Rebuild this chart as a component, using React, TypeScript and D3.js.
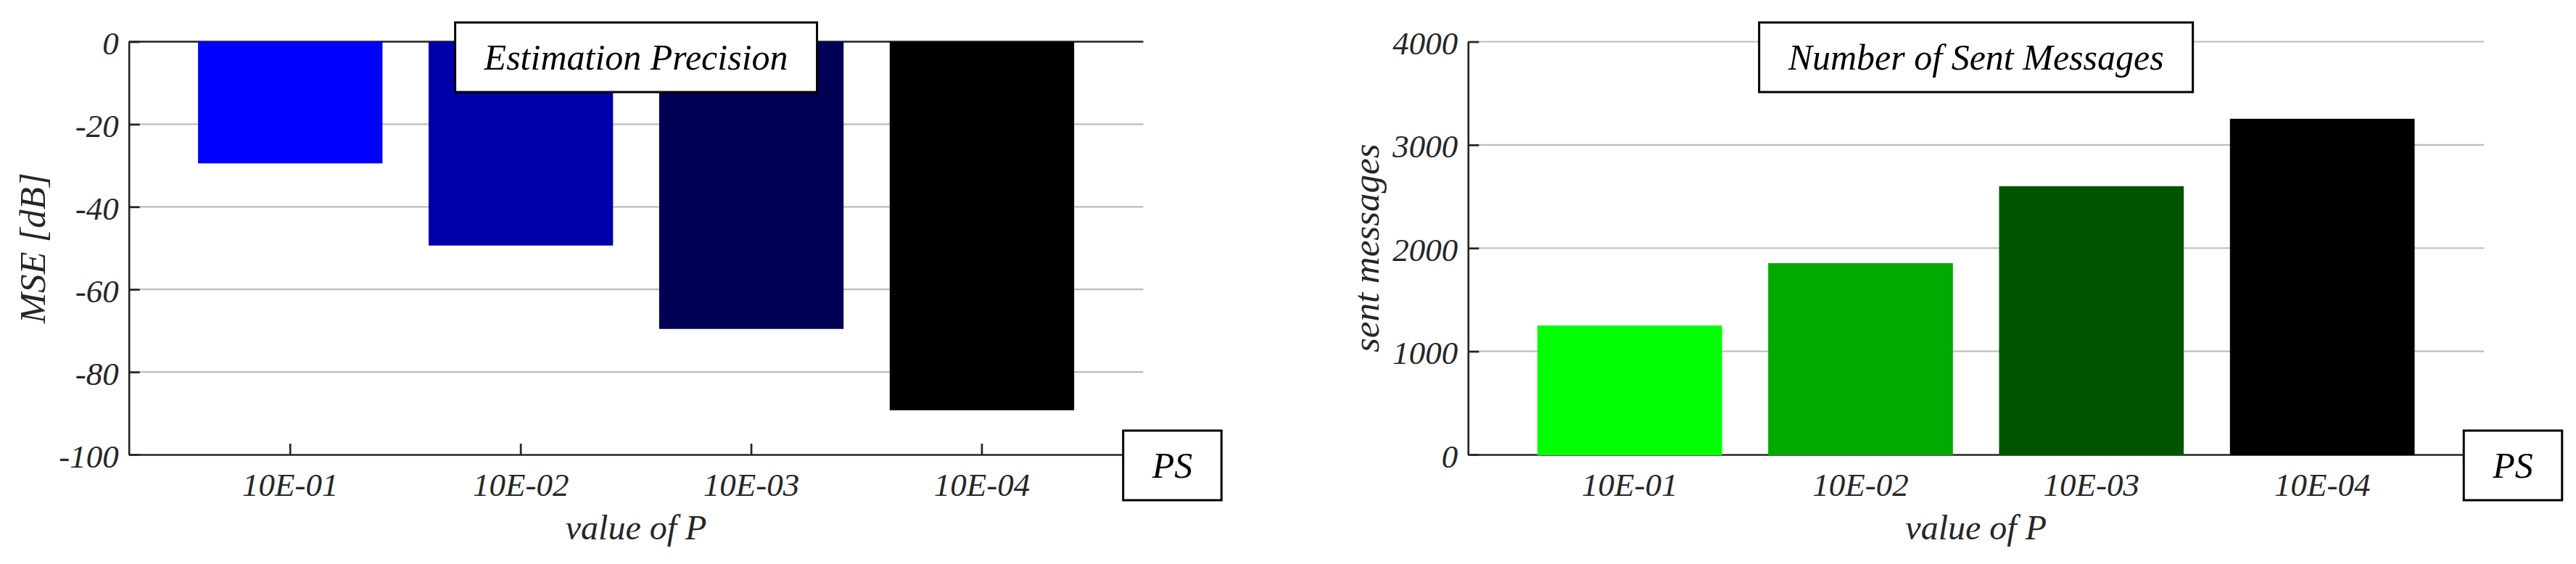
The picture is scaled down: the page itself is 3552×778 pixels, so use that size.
import React, { useEffect, useRef } from 'react';
import * as d3 from 'd3';

// values of P on the x axis, shared by both panels
const categories = ['10E-01', '10E-02', '10E-03', '10E-04'];

// left panel: estimation precision (MSE in dB)
const mseValues = [-29.3, -49.2, -69.4, -89.1];
const mseTicks = [0, -20, -40, -60, -80, -100];
const blueShades = ['#0000ff', '#0000aa', '#000055', '#000000'];

// right panel: number of sent messages
const sentValues = [1250, 1854, 2600, 3253];
const sentTicks = [0, 1000, 2000, 3000, 4000];
const greenShades = ['#00ff00', '#00aa00', '#005500', '#000000'];

const WIDTH = 3552;
const HEIGHT = 778;
const PLOT_TOP = 57.5;
const PLOT_BOTTOM = 627;
const FONT = '"Liberation Serif", "Times New Roman", serif';
const AXIS_COLOR = '#262626';
const GRID_COLOR = '#bdbdbd';

interface PanelSpec {
  left: number;
  right: number;
  domain: [number, number];
  values: number[];
  ticks: number[];
  colors: string[];
  title: string;
  yLabel: string;
  yLabelX: number;
  zeroLine: boolean;
}

// white box with a black frame and a centred italic text
function boxedText(
  g: d3.Selection<SVGGElement, unknown, null, undefined>,
  cx: number,
  cy: number,
  label: string,
  fontSize: number
) {
  const box = g.append('g');
  const rect = box.append('rect');
  const text = box.append('text')
    .attr('x', cx)
    .attr('y', cy + fontSize * 0.33)
    .attr('text-anchor', 'middle')
    .attr('font-family', FONT)
    .attr('font-style', 'italic')
    .attr('font-size', fontSize)
    .attr('fill', '#000')
    .text(label);
  const len = (text.node() as SVGTextElement).getComputedTextLength();
  const w = len + 80;
  const h = 96;
  rect.attr('x', cx - w / 2)
    .attr('y', cy - h / 2)
    .attr('width', w)
    .attr('height', h)
    .attr('fill', '#fff')
    .attr('stroke', '#000')
    .attr('stroke-width', 3);
}

function drawPanel(svg: d3.Selection<SVGSVGElement, unknown, null, undefined>, p: PanelSpec) {
  const g = svg.append('g');

  const x = d3.scaleBand<string>()
    .domain(categories)
    .range([p.left, p.right])
    .paddingInner(0.2)
    .paddingOuter(0.3);

  const y = d3.scaleLinear()
    .domain(p.domain)
    .range([PLOT_BOTTOM, PLOT_TOP]);

  // horizontal grid (the bottom one is the axis itself)
  g.append('g')
    .selectAll('line')
    .data(p.ticks.filter(t => t !== p.domain[0]))
    .join('line')
    .attr('x1', p.left)
    .attr('x2', p.right)
    .attr('y1', d => y(d))
    .attr('y2', d => y(d))
    .attr('stroke', GRID_COLOR)
    .attr('stroke-width', 2.2);

  if (p.zeroLine) {
    g.append('line')
      .attr('x1', p.left)
      .attr('x2', p.right)
      .attr('y1', y(0))
      .attr('y2', y(0))
      .attr('stroke', AXIS_COLOR)
      .attr('stroke-width', 2.7);
  }

  const styleAxis = (a: d3.Selection<SVGGElement, unknown, null, undefined>) => {
    a.attr('font-family', FONT)
      .attr('font-style', 'italic')
      .attr('font-size', 45);
    a.select('.domain').attr('stroke', AXIS_COLOR).attr('stroke-width', 2.7);
    a.selectAll('.tick line').attr('stroke', AXIS_COLOR).attr('stroke-width', 2.7);
    a.selectAll('.tick text').attr('fill', AXIS_COLOR);
  };

  const yAxis = d3.axisLeft(y)
    .tickValues(p.ticks)
    .tickFormat(d => String(d))
    .tickSize(-15)
    .tickSizeOuter(0)
    .tickPadding(14);

  g.append('g')
    .attr('transform', `translate(${p.left},0)`)
    .call(yAxis)
    .call(styleAxis)
    .call(a => a.selectAll('.tick text').attr('dy', '0.38em'));

  const xAxis = d3.axisBottom(x)
    .tickSize(-15)
    .tickSizeOuter(0)
    .tickPadding(25);

  g.append('g')
    .attr('transform', `translate(0,${PLOT_BOTTOM})`)
    .call(xAxis)
    .call(styleAxis);

  // bars hang from zero, so they cover the baseline like the original
  g.append('g')
    .selectAll('rect')
    .data(p.values)
    .join('rect')
    .attr('x', (_, i) => x(categories[i])!)
    .attr('width', x.bandwidth())
    .attr('y', d => Math.min(y(d), y(0)))
    .attr('height', d => Math.abs(y(d) - y(0)) + 1)
    .attr('fill', (_, i) => p.colors[i]);

  g.append('text')
    .attr('x', (p.left + p.right) / 2)
    .attr('y', 744)
    .attr('text-anchor', 'middle')
    .attr('font-family', FONT)
    .attr('font-style', 'italic')
    .attr('font-size', 48)
    .attr('fill', AXIS_COLOR)
    .text('value of P');

  g.append('text')
    .attr('transform', `translate(${p.yLabelX},${(PLOT_TOP + PLOT_BOTTOM) / 2}) rotate(-90)`)
    .attr('text-anchor', 'middle')
    .attr('font-family', FONT)
    .attr('font-style', 'italic')
    .attr('font-size', 51)
    .attr('fill', AXIS_COLOR)
    .text(p.yLabel);

  boxedText(g, (p.left + p.right) / 2, 79, p.title, 50);
  boxedText(g, p.right + 40, 642, 'PS', 50);
}

const App: React.FC = () => {
  const ref = useRef<SVGSVGElement | null>(null);

  useEffect(() => {
    if (!ref.current) return;
    const svg = d3.select(ref.current);
    svg.selectAll('*').remove();

    drawPanel(svg, {
      left: 177.7,
      right: 1576.5,
      domain: [-100, 0],
      values: mseValues,
      ticks: mseTicks,
      colors: blueShades,
      title: 'Estimation Precision',
      yLabel: 'MSE [dB]',
      yLabelX: 62,
      zeroLine: true,
    });

    drawPanel(svg, {
      left: 2024.3,
      right: 3425,
      domain: [0, 4000],
      values: sentValues,
      ticks: sentTicks,
      colors: greenShades,
      title: 'Number of Sent Messages',
      yLabel: 'sent messages',
      yLabelX: 1901,
      zeroLine: false,
    });
  }, []);

  return (
    <svg
      ref={ref}
      width={WIDTH}
      height={HEIGHT}
      style={{ position: 'absolute', left: 0, top: 0, background: '#fff' }}
    />
  );
};

export default App;
